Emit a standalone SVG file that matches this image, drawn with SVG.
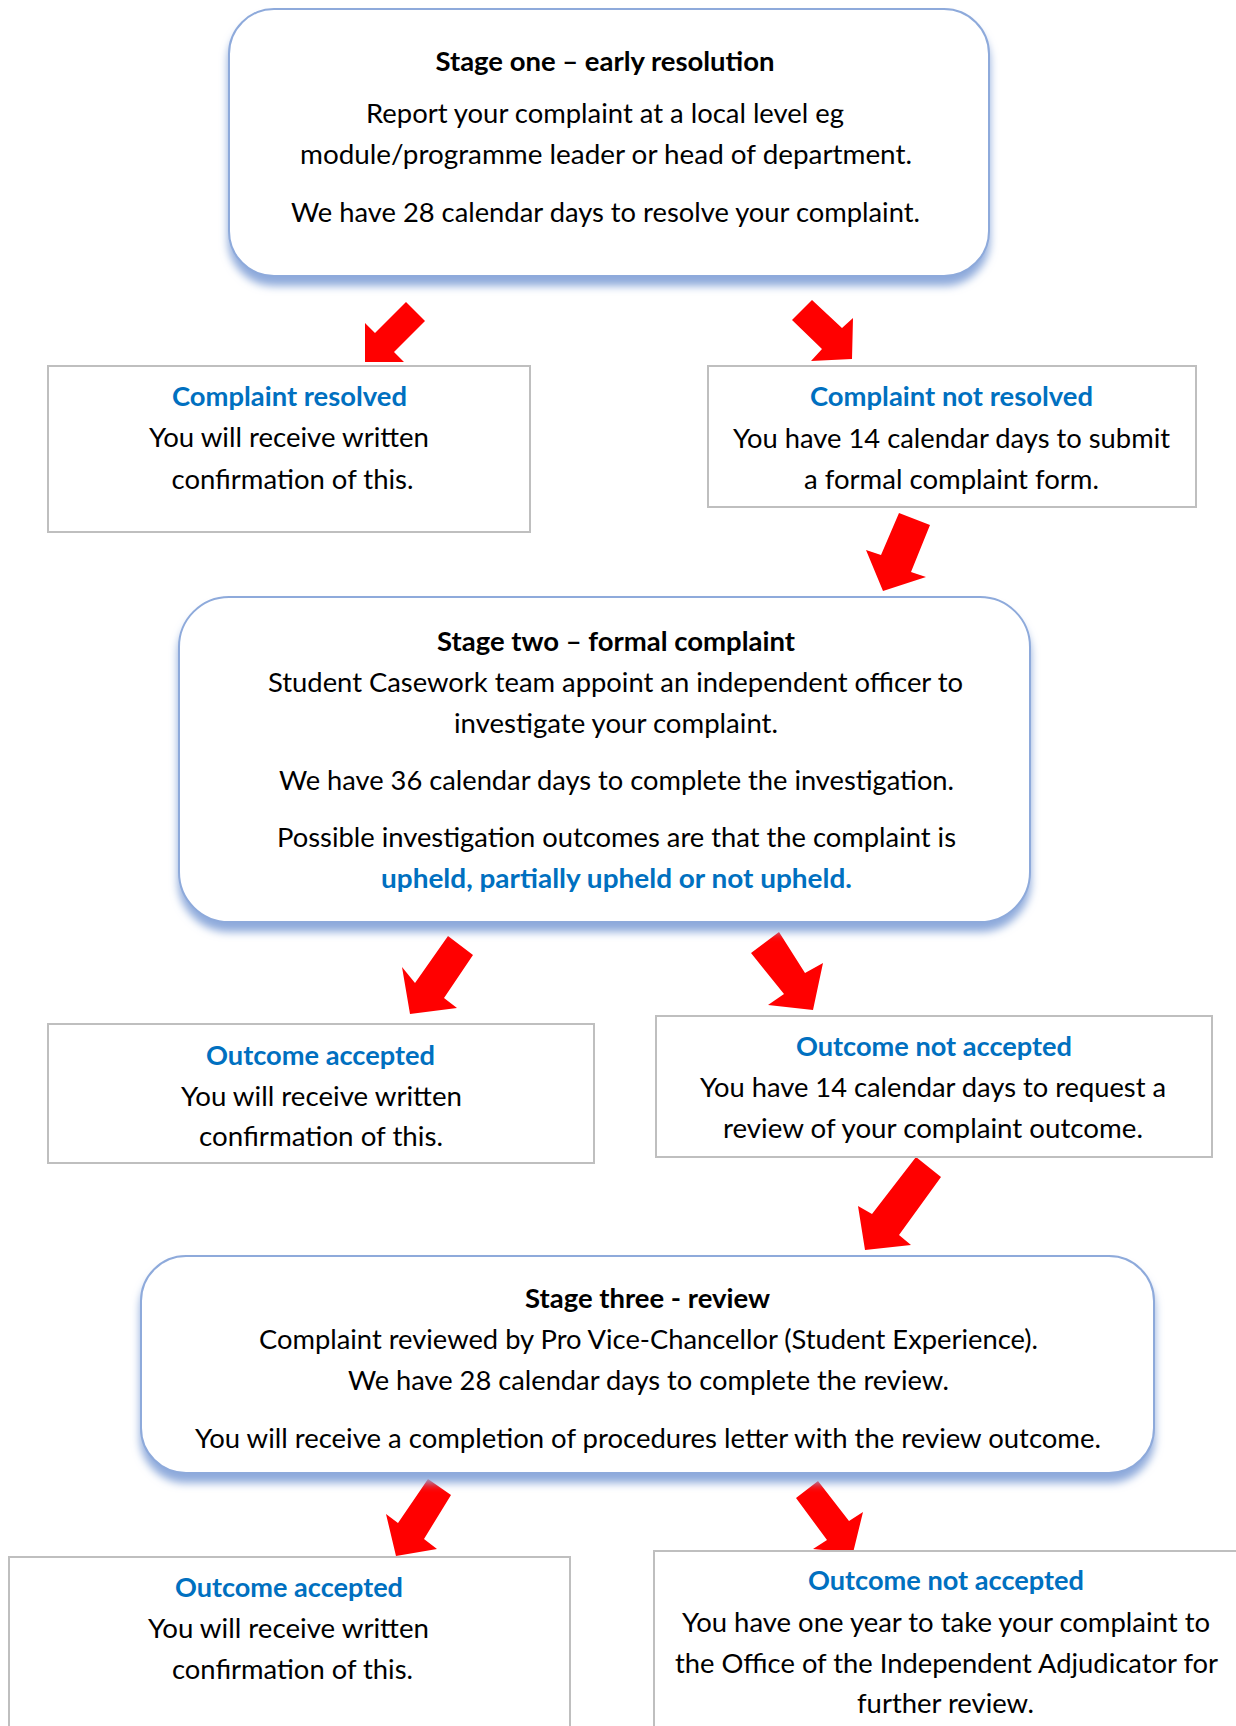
<svg xmlns="http://www.w3.org/2000/svg" width="1236" height="1726" viewBox="0 0 1236 1726">
<defs>
<filter id="sh" x="-5%" y="-10%" width="110%" height="130%">
<feGaussianBlur in="SourceAlpha" stdDeviation="4"/>
<feOffset dy="9" result="o"/>
<feFlood flood-color="#8eaadb"/>
<feComposite in2="o" operator="in"/>
<feMerge><feMergeNode/><feMergeNode in="SourceGraphic"/></feMerge>
</filter>
</defs>
<style>
text{font-family:Lato,"Liberation Sans",sans-serif;font-size:26.5px;fill:#000;text-anchor:middle}
.b{font-weight:700}
.blue{fill:#0070c0;font-weight:700}
.stage{fill:#fff;stroke:#8eaadb;stroke-width:2;filter:url(#sh)}
.box{fill:#fff;stroke:#bfbfbf;stroke-width:2}
.arrow{fill:#ff0000}
</style>
<rect width="1236" height="1726" fill="#fff"/>
<g id="connectors">
<polygon class="arrow" points="406,302 425,321 394,352 404,362 365,362 365,323 375,333"/>
<polygon class="arrow" points="812,300 842,328 853,318 852,359 811,361 822,349 792,320"/>
<polygon class="arrow" points="899,513 930,525 911,572 926,577 883,591 866,550 881,555"/>
<polygon class="arrow" points="448,936 473,955 444,998 457,1008 410,1014 402,967 415,983"/>
<polygon class="arrow" points="779,932 751,953 784,994 768,1005 813,1010 823,963 805,973"/>
<polygon class="arrow" points="916,1157 941,1177 899,1235 911,1245 865,1250 858,1206 872,1214"/>
<polygon class="arrow" points="428,1479 451,1495 424,1539 437,1549 396,1556 386,1514 398,1523"/>
<polygon class="arrow" points="818,1481 796,1498 827,1540 813,1549 853,1553 863,1512 849,1521"/>
</g>
<g id="stage1">
<rect class="stage" x="229" y="9" width="760" height="267" rx="45"/>
<text class="b" x="605" y="70.5" textLength="339" lengthAdjust="spacingAndGlyphs">Stage one – early resolution</text>
<text x="605" y="122.5" textLength="478" lengthAdjust="spacingAndGlyphs">Report your complaint at a local level eg</text>
<text x="606" y="163.5" textLength="612" lengthAdjust="spacingAndGlyphs">module/programme leader or head of department.</text>
<text x="605.5" y="221.5" textLength="629" lengthAdjust="spacingAndGlyphs">We have 28 calendar days to resolve your complaint.</text>
</g>
<g id="complaint-resolved">
<rect class="box" x="48" y="366" width="482" height="166"/>
<text class="blue" x="289.5" y="406" textLength="235" lengthAdjust="spacingAndGlyphs">Complaint resolved</text>
<text x="289" y="446.5" textLength="280" lengthAdjust="spacingAndGlyphs">You will receive written</text>
<text x="292.5" y="488.5" textLength="242" lengthAdjust="spacingAndGlyphs">confirmation of this.</text>
</g>
<g id="complaint-not-resolved">
<rect class="box" x="708" y="366" width="488" height="141"/>
<text class="blue" x="951.5" y="406" textLength="283" lengthAdjust="spacingAndGlyphs">Complaint not resolved</text>
<text x="951.5" y="447.5" textLength="437" lengthAdjust="spacingAndGlyphs">You have 14 calendar days to submit</text>
<text x="951.5" y="488.5" textLength="295" lengthAdjust="spacingAndGlyphs">a formal complaint form.</text>
</g>
<g id="stage2">
<rect class="stage" x="179" y="597" width="851" height="325" rx="50"/>
<text class="b" x="616" y="650.5" textLength="358" lengthAdjust="spacingAndGlyphs">Stage two – formal complaint</text>
<text x="615.5" y="691.5" textLength="695" lengthAdjust="spacingAndGlyphs">Student Casework team appoint an independent officer to</text>
<text x="616" y="732.5" textLength="324" lengthAdjust="spacingAndGlyphs">investigate your complaint.</text>
<text x="616.5" y="789.5" textLength="675" lengthAdjust="spacingAndGlyphs">We have 36 calendar days to complete the investigation.</text>
<text x="616.5" y="846.5" textLength="679" lengthAdjust="spacingAndGlyphs">Possible investigation outcomes are that the complaint is</text>
<text class="blue" x="616.5" y="887.5" textLength="471" lengthAdjust="spacingAndGlyphs">upheld, partially upheld or not upheld.</text>
</g>
<g id="outcome-accepted-1">
<rect class="box" x="48" y="1024" width="546" height="139"/>
<text class="blue" x="320.5" y="1064.5" textLength="229" lengthAdjust="spacingAndGlyphs">Outcome accepted</text>
<text x="321.5" y="1105.5" textLength="281" lengthAdjust="spacingAndGlyphs">You will receive written</text>
<text x="321" y="1145.5" textLength="244" lengthAdjust="spacingAndGlyphs">confirmation of this.</text>
</g>
<g id="outcome-not-accepted-1">
<rect class="box" x="656" y="1016" width="556" height="141"/>
<text class="blue" x="934" y="1055.5" textLength="276" lengthAdjust="spacingAndGlyphs">Outcome not accepted</text>
<text x="933" y="1096.5" textLength="466" lengthAdjust="spacingAndGlyphs">You have 14 calendar days to request a</text>
<text x="933" y="1137.5" textLength="420" lengthAdjust="spacingAndGlyphs">review of your complaint outcome.</text>
</g>
<g id="stage3">
<rect class="stage" x="141" y="1256" width="1013" height="217" rx="45"/>
<text class="b" x="647.5" y="1307.5" textLength="245" lengthAdjust="spacingAndGlyphs">Stage three - review</text>
<text x="648.5" y="1348.5" textLength="779" lengthAdjust="spacingAndGlyphs">Complaint reviewed by Pro Vice-Chancellor (Student Experience).</text>
<text x="648.5" y="1389.5" textLength="601" lengthAdjust="spacingAndGlyphs">We have 28 calendar days to complete the review.</text>
<text x="648" y="1447.5" textLength="906" lengthAdjust="spacingAndGlyphs">You will receive a completion of procedures letter with the review outcome.</text>
</g>
<g id="outcome-accepted-2">
<rect class="box" x="9" y="1557" width="561" height="190"/>
<text class="blue" x="289" y="1596.5" textLength="228" lengthAdjust="spacingAndGlyphs">Outcome accepted</text>
<text x="288.5" y="1637.5" textLength="281" lengthAdjust="spacingAndGlyphs">You will receive written</text>
<text x="292.5" y="1678.5" textLength="241" lengthAdjust="spacingAndGlyphs">confirmation of this.</text>
</g>
<g id="outcome-not-accepted-2">
<rect class="box" x="654" y="1551" width="600" height="200"/>
<text class="blue" x="946" y="1589.5" textLength="276" lengthAdjust="spacingAndGlyphs">Outcome not accepted</text>
<text x="946" y="1631.5" textLength="528" lengthAdjust="spacingAndGlyphs">You have one year to take your complaint to</text>
<text x="946.5" y="1672.5" textLength="543" lengthAdjust="spacingAndGlyphs">the Office of the Independent Adjudicator for</text>
<text x="945.5" y="1712.5" textLength="177" lengthAdjust="spacingAndGlyphs">further review.</text>
</g>
</svg>
